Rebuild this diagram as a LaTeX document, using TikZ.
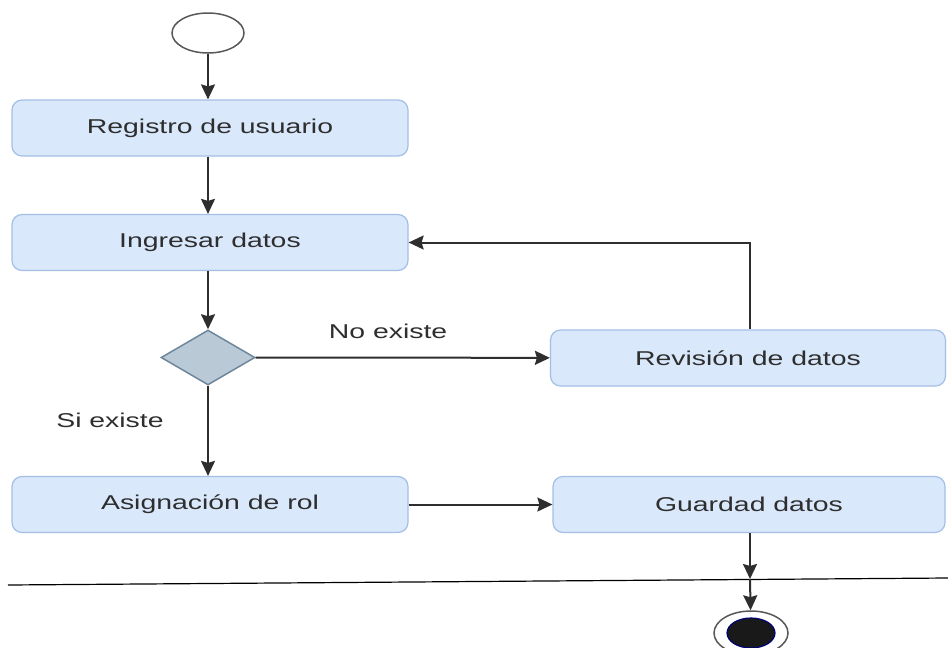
\documentclass[tikz,border=0pt]{standalone}
\usepackage{fontspec}
\setmainfont[FakeStretch=1.42]{Liberation Sans}
\usetikzlibrary{shapes.geometric,arrows.meta}
\definecolor{boxfill}{HTML}{DAE8FC}
\definecolor{boxline}{HTML}{A3BFE6}
\definecolor{decfill}{HTML}{BAC9D6}
\definecolor{decline}{HTML}{6E879C}
\definecolor{ink}{HTML}{2E2E2E}
\tikzset{
  actbox/.style={draw=boxline, line width=1.2pt, fill=boxfill, rounded corners=10pt,
    minimum height=56pt, inner sep=0pt, text=ink, font=\fontsize{20}{22}\selectfont},
  flow/.style={draw=ink, line width=2pt, -{Stealth[length=15pt,width=14pt,inset=2pt]}},
  lbl/.style={text=ink, font=\fontsize{20}{22}\selectfont, inner sep=0pt}
}
\begin{document}
\begin{tikzpicture}[x=1pt,y=-1pt]
\useasboundingbox (0,0) rectangle (948,648);
% start node
\node[ellipse, draw=ink!80, line width=1.5pt, fill=white, minimum width=72pt, minimum height=40pt, inner sep=0pt] (start) at (208,33) {};
% activities
\node[actbox, minimum width=396pt] (reg) at (210,128) {Registro de usuario};
\node[actbox, minimum width=396pt] (ing) at (210,242.5) {Ingresar datos};
\node[diamond, draw=decline, line width=1.5pt, fill=decfill, aspect=1.7, minimum width=94pt, minimum height=55pt, inner sep=0pt] (dec) at (208,357.5) {};
\node[actbox, minimum width=395pt] (rev) at (748,358) {Revisión de datos};
\node[actbox, minimum width=396pt] (asig) at (210,504.5) {Asignación de rol};
\node[actbox, minimum width=392pt] (guard) at (749,504.5) {Guardad datos};
% final node
\node[ellipse, draw=ink!80, line width=1.5pt, fill=white, minimum width=74pt, minimum height=44pt, inner sep=0pt] (end) at (751,633) {};
\node[ellipse, draw=blue!45!black, line width=1.2pt, fill=black!90, minimum width=48pt, minimum height=30pt, inner sep=0pt] (endin) at (751,633) {};
% separator line
\coordinate (lineL) at (8,585);
\coordinate (lineR) at (948,578);
\draw[black, line width=1.2pt] (lineL) -- (lineR);
\coordinate (cross) at (750,579);
% connectors
\draw[flow] (start.south -| dec) -- (reg.north -| dec);
\draw[flow] (reg.south -| dec) -- (ing.north -| dec);
\draw[flow] (ing.south -| dec) -- (dec);
\draw[flow] (dec) -- (rev) node[lbl, pos=0.45, above=18pt] {No existe};
\draw[flow] (rev.north -| 750,0) |- (ing.east);
\draw[flow] (dec) -- (asig.north -| dec);
\node[lbl] (si) at (110,420) {Si existe};
\draw[flow] (asig) -- (guard);
\draw[flow] (guard.south -| cross) -- (cross);
\draw[flow] (cross) -- (end);
\end{tikzpicture}
\end{document}
